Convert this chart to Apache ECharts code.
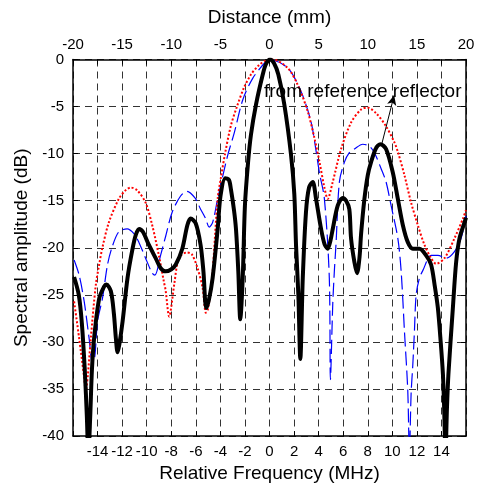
<!DOCTYPE html>
<html>
<head>
<meta charset="utf-8">
<script src="https://cdn.jsdelivr.net/npm/echarts@6/dist/echarts.min.js"></script>
<style>
  html, body { margin: 0; padding: 0; background: #fff; }
  #chart { width: 479px; height: 488px; }
</style>
</head>
<body>
<div id="chart"></div>
<script>
// measured (thick black)
var blackFreq = [-15.91, -15.53, -15.28, -15.04, -14.87, -14.75, -14.6, -14.46, -14.28, -13.87, -13.46, -13.28, -12.92, -12.67, -12.51, -12.37, -12.22, -11.96, -11.56, -11.15, -10.88, -10.61, -10.31, -9.82, -9.27, -8.84, -8.46, -8.02, -7.64, -7.1, -6.69, -6.42, -6.01, -5.61, -5.38, -5.15, -4.93, -4.63, -4.22, -3.99, -3.6, -3.3, -3.14, -2.89, -2.73, -2.54, -2.38, -2.18, -2.0, -1.75, -1.51, -1.1, -0.55, -0.29, 0.04, 0.37, 0.72, 1.21, 1.75, 2.02, 2.16, 2.35, 2.51, 2.71, 2.97, 3.22, 3.52, 3.79, 4.2, 4.48, 4.74, 4.97, 5.15, 5.56, 5.97, 6.24, 6.5, 6.64, 6.91, 7.13, 7.33, 7.46, 7.73, 8.0, 8.27, 8.68, 9.03, 9.49, 10.04, 10.45, 10.86, 11.26, 11.67, 12.21, 12.75, 13.16, 13.45, 13.71, 13.94, 14.12, 14.22, 14.33, 14.45, 14.57, 14.93, 15.2, 15.47, 15.88, 16.0];
var blackDb = [-23.1, -25.0, -28.0, -33, -38, -42, -38, -33, -29.6, -25.4, -24.1, -23.9, -24.6, -27, -29.6, -31.1, -30.2, -27.8, -23.2, -20.1, -18.6, -18.0, -18.3, -19.7, -21.1, -22.2, -22.5, -22.3, -21.8, -20.1, -17.6, -16.9, -17.4, -19.7, -22.5, -26.4, -25.5, -23.2, -18, -14.5, -12.6, -12.8, -13.8, -16, -18, -22.5, -27.6, -23.2, -15.5, -11, -8, -4.8, -1.6, -0.5, 0, -0.4, -1.6, -4.8, -10.1, -14.3, -19.7, -25, -31.8, -23.2, -16.2, -13.6, -13.0, -14.8, -18, -19.6, -20.1, -19.2, -18, -15.5, -14.7, -15, -15.9, -19, -21.5, -22.7, -21, -18.5, -14.8, -12.3, -10.9, -9.4, -9.0, -9.5, -12, -14.8, -17.6, -19.4, -20.1, -20.1, -20.8, -21.8, -24, -26.4, -30, -33.4, -37, -42, -37, -33.4, -26.4, -21.5, -19, -17.3, -16.8];

// red dotted
var redFreq = [-15.91, -15.5, -15.09, -14.96, -14.79, -14.55, -14.14, -13.87, -13.61, -13.08, -12.27, -11.72, -11.31, -10.77, -10.09, -9.55, -9.01, -8.6, -8.46, -8.17, -7.76, -7.48, -7.21, -6.72, -6.32, -5.85, -5.44, -5.18, -5.01, -4.85, -4.63, -4.22, -3.95, -3.62, -3.14, -2.65, -2.08, -1.51, -0.86, -0.29, 0.12, 0.26, 1.48, 2.3, 3.11, 3.65, 4.06, 4.47, 4.74, 5.15, 5.83, 6.64, 7.46, 7.95, 8.68, 9.49, 10.17, 10.45, 10.99, 11.53, 12.08, 12.62, 13.16, 13.57, 14.25, 15.06, 15.75, 16.0];
var redDb = [-25.7, -29.6, -33.8, -35.2, -33.5, -29.6, -23.9, -21.8, -20.0, -17.3, -14.8, -13.9, -13.6, -13.9, -15.2, -17.6, -20.8, -23.6, -24.5, -27.3, -23.9, -21.5, -20.8, -20.5, -20.7, -22.2, -24.3, -26.9, -26.5, -25, -22.5, -14.8, -12.5, -10, -7.0, -5.0, -3.0, -1.6, -0.6, -0.1, 0, 0, -0.9, -2.7, -5.5, -8.3, -10.8, -13.6, -14.8, -13, -9.5, -6.7, -5.3, -5.1, -5.7, -7.1, -8.8, -9.8, -12.3, -15.2, -17.6, -19.7, -21.1, -21.7, -21.1, -19, -16.9, -16.0];

// blue dash-dot
var blueFreq = [-15.91, -15.5, -15.09, -14.69, -14.41, -14.22, -14.0, -13.59, -13.19, -12.81, -12.27, -11.59, -11.04, -10.64, -10.09, -9.55, -9.33, -8.87, -8.46, -7.92, -7.24, -6.72, -6.07, -5.61, -5.2, -4.91, -4.63, -4.22, -3.41, -2.87, -2.18, -1.37, -0.42, -0.02, 1.48, 2.57, 3.38, 3.79, 4.06, 4.47, 4.87, 4.96, 5.15, 5.28, 5.42, 5.69, 6.1, 6.5, 6.91, 7.6, 8.13, 8.54, 9.09, 9.49, 9.9, 10.45, 10.72, 10.99, 11.26, 11.39, 11.53, 11.67, 11.8, 11.94, 12.21, 12.49, 13.16, 13.71, 14.38, 15.06, 15.6, 16.0];
var blueDb = [-21.3, -22.9, -25.7, -29.6, -32.4, -31.5, -27.8, -25.3, -21.8, -19.9, -18.3, -18.0, -18.5, -19.4, -21.1, -22.7, -22.9, -20.8, -18.8, -16.2, -14.5, -14.0, -14.7, -15.9, -16.9, -17.8, -17.3, -14.8, -10.2, -7.8, -4.3, -2.0, -0.4, 0, -0.9, -3.4, -6.6, -9.7, -12.0, -14.8, -23.2, -34, -26, -22.5, -19.5, -13, -10.9, -9.9, -9.5, -9.0, -9.2, -9.9, -11.6, -13, -15.5, -19, -22.5, -28.9, -35.2, -42, -35.5, -32.4, -28.9, -25, -23.2, -22.4, -20.8, -20.8, -21.1, -20.4, -19, -16.6];

var freqTicks = [-14, -12, -10, -8, -6, -4, -2, 0, 2, 4, 6, 8, 10, 12, 14];
var distTicks = [-20, -15, -10, -5, 0, 5, 10, 15, 20];

function zip(a, b) {
    return a.map(function (v, i) { return [v, b[i]]; });
}

var font = '"Liberation Sans", Arial, Helvetica, sans-serif';
var gridLine = { show: true, lineStyle: { color: '#333', width: 1, type: [7, 5] } };
var frame = { show: true, onZero: false, lineStyle: { color: '#000', width: 1.5 } };
var tick = { show: true, inside: true, length: 5, lineStyle: { color: '#000', width: 1 } };

var myChart = echarts.init(document.getElementById('chart'));
option = {
    animation: false,
    grid: { left: 73, right: 13, top: 59.5, bottom: 49 },
    xAxis: [
        {
            type: 'value', position: 'bottom', min: -16, max: 16, interval: 2,
            name: 'Relative Frequency (MHz)', nameLocation: 'middle', nameGap: 27,
            nameTextStyle: { fontSize: 19, color: '#000', fontFamily: font },
            axisLine: frame, axisTick: tick, splitLine: gridLine,
            axisLabel: {
                fontSize: 15, color: '#000', fontFamily: font, margin: 8,
                formatter: function (v) { return freqTicks.indexOf(v) >= 0 ? String(v) : ''; }
            }
        },
        {
            type: 'value', position: 'top', min: -20, max: 20, interval: 2.5,
            name: 'Distance (mm)', nameLocation: 'middle', nameGap: 32,
            nameTextStyle: { fontSize: 19, color: '#000', fontFamily: font },
            axisLine: frame, axisTick: tick, splitLine: { show: false },
            axisLabel: {
                fontSize: 15, color: '#000', fontFamily: font, margin: 7,
                formatter: function (v) { return distTicks.indexOf(v) >= 0 ? String(v) : ''; }
            }
        }
    ],
    yAxis: [
        {
            type: 'value', position: 'left', min: -40, max: 0, interval: 5,
            name: 'Spectral amplitude (dB)', nameLocation: 'middle', nameGap: 40,
            nameTextStyle: { fontSize: 19, color: '#000', fontFamily: font },
            axisLine: frame, axisTick: tick, splitLine: gridLine,
            axisLabel: { fontSize: 15, color: '#000', fontFamily: font, margin: 9 }
        },
        {
            type: 'value', position: 'right', min: -40, max: 0, interval: 5,
            axisLine: frame, axisTick: tick, splitLine: { show: false },
            axisLabel: { show: false }
        }
    ],
    graphic: [
        {
            type: 'text', left: 264, top: 82, z: 100,
            style: { text: 'from reference reflector', fontSize: 19, fontFamily: font, fill: '#000' }
        }
    ],
    series: [
        {
            type: 'line', data: zip(blueFreq, blueDb), showSymbol: false, smooth: 0.3,
            lineStyle: { color: '#0000ff', width: 1.2, type: [14, 5] }
        },
        {
            type: 'line', data: zip(redFreq, redDb), showSymbol: false, smooth: 0.3,
            lineStyle: { color: '#ff0000', width: 2, type: [2, 2] }
        },
        {
            type: 'line', data: zip(blackFreq, blackDb), showSymbol: false, smooth: 0.3,
            lineStyle: { color: '#000', width: 4 },
            markLine: {
                silent: true, symbol: ['none', 'arrow'], symbolSize: [7, 10],
                label: { show: false },
                lineStyle: { color: '#000', width: 1, type: 'solid' },
                data: [[{ coord: [9.1, -9.2] }, { coord: [10.15, -3.8] }]]
            }
        }
    ]
};
myChart.setOption(option);
</script>
</body>
</html>
